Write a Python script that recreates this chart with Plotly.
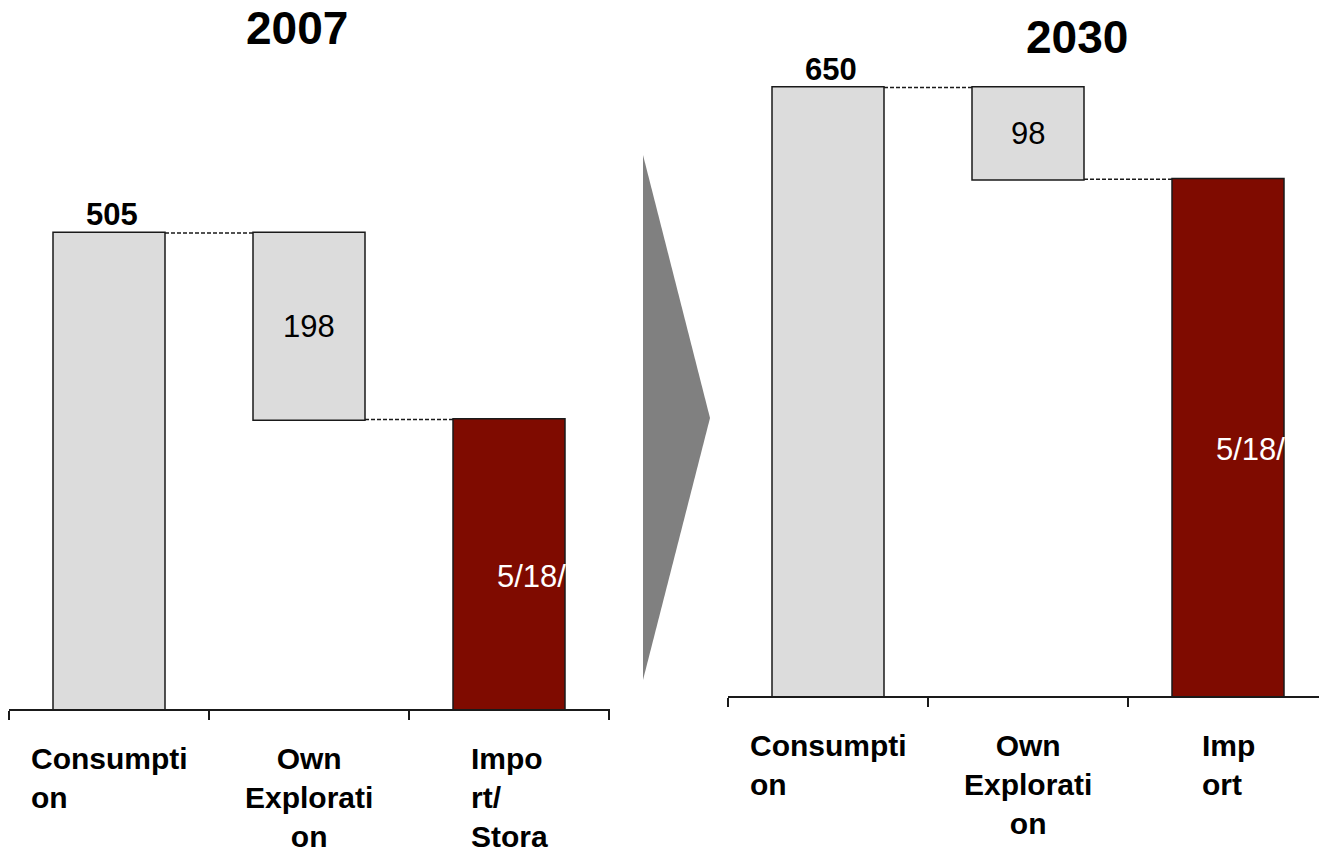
import plotly.graph_objects as go

W, H = 1319, 850

# Gas balance: consumption covered by own exploration and imports
categories = ["Consumption", "Own Exploration", "Import"]
labels_2007 = ["Consumpti<br>on", "Own<br>Explorati<br>on", "Impo<br>rt/<br>Stora"]
labels_2030 = ["Consumpti<br>on", "Own<br>Explorati<br>on", "Imp<br>ort"]
label_align = ["left", "center", "left"]
measures = ["relative", "relative", "total"]
values_2007 = [505, -198, 0]
values_2030 = [650, -98, 0]
text_2007 = ["505", "198", "5/18/"]
text_2030 = ["650", "98", "5/18/"]
years = ["2007", "2030"]

GREY = "#DCDCDC"
RED = "#7F0B00"
EDGE = "#1a1a1a"
FONT = "Liberation Sans"

# panel geometry in pixels: axis left, axis right, axis baseline, px per unit,
# and the heading position
panels = [
    dict(x0=9, x1=610, base=709, ppu=0.9426, title_x=297, title_y=28),
    dict(x0=728, x1=1319, base=696, ppu=0.936, title_x=1077, title_y=37),
]


def px(x):
    return x / W


def py(y):
    return 1 - y / H


fig = go.Figure()
annotations = []
shapes = []

for i, (vals, texts, labels, year, p) in enumerate(
    zip([values_2007, values_2030], [text_2007, text_2030],
        [labels_2007, labels_2030], years, panels)):
    sfx = "" if i == 0 else str(i + 1)
    xa, ya = "x" + sfx, "y" + sfx

    fig.add_trace(go.Waterfall(
        x=categories, y=vals, measure=measures, width=0.56,
        xaxis=xa, yaxis=ya, showlegend=False, hoverinfo="skip",
        increasing=dict(marker=dict(color=GREY, line=dict(color=EDGE, width=1.5))),
        decreasing=dict(marker=dict(color=GREY, line=dict(color=EDGE, width=1.5))),
        totals=dict(marker=dict(color=RED, line=dict(color=EDGE, width=1.5))),
        connector=dict(mode="between", line=dict(color=EDGE, width=1.5, dash="4px,2px")),
    ))

    span = (p["x1"] - p["x0"]) / 200.0
    fig.layout["xaxis" + sfx] = dict(
        domain=[px(p["x0"]), px(p["x1"])], anchor=ya, type="category",
        range=[-0.5, -0.5 + span], showline=True, linecolor=EDGE, linewidth=1.5,
        ticks="outside", tickson="boundaries", ticklen=9, tickwidth=1.5,
        tickcolor=EDGE, showticklabels=False, showgrid=False, zeroline=False,
        fixedrange=True,
    )
    fig.layout["yaxis" + sfx] = dict(
        domain=[py(p["base"]), 1], anchor=xa,
        range=[0, p["base"] / p["ppu"]], visible=False, fixedrange=True,
    )

    top = vals[0]
    total = vals[0] + vals[1]

    # year heading
    annotations.append(dict(
        text=year, xref="paper", yref="paper",
        x=px(p["title_x"]), y=py(p["title_y"]),
        xanchor="center", yanchor="middle", showarrow=False,
        font=dict(family=FONT, size=46, color="black", weight="bold"),
    ))
    # value labels
    annotations.append(dict(
        text=texts[0], xref=xa, yref=ya, x=categories[0], y=top,
        xanchor="center", yanchor="bottom", showarrow=False,
        xshift=3, yshift=-1,
        font=dict(family=FONT, size=31, color="black", weight="bold"),
    ))
    annotations.append(dict(
        text=texts[1], xref=xa, yref=ya, x=categories[1], y=top + vals[1] / 2,
        xanchor="center", yanchor="middle", showarrow=False,
        font=dict(family=FONT, size=31, color="black"),
    ))
    annotations.append(dict(
        text=texts[2], xref=xa, yref=ya, x=categories[2], y=total / 2,
        xanchor="left", yanchor="middle", showarrow=False,
        xshift=-14, yshift=-12,
        font=dict(family=FONT, size=31, color="white"),
    ))
    # category labels
    for cat, lab, al in zip(categories, labels, label_align):
        annotations.append(dict(
            text=lab, xref=xa, yref="paper", x=cat, y=py(p["base"] + 32),
            xanchor="center", yanchor="top", align=al, showarrow=False,
            borderpad=0,
            font=dict(family=FONT, size=30, color="black", weight="bold"),
        ))

# grey arrow between the two years
pts = [(643, 155), (710, 418), (643, 680)]
path = "M " + " L ".join(f"{px(x):.5f},{py(y):.5f}" for x, y in pts) + " Z"
shapes.append(dict(type="path", xref="paper", yref="paper", path=path,
                   fillcolor="#808080", line=dict(width=0), layer="below"))

fig.update_layout(
    width=W, height=H, margin=dict(l=0, r=0, t=0, b=0),
    paper_bgcolor="white", plot_bgcolor="white",
    annotations=annotations, shapes=shapes,
)

fig.write_html("out.html", config={"displayModeBar": False})
